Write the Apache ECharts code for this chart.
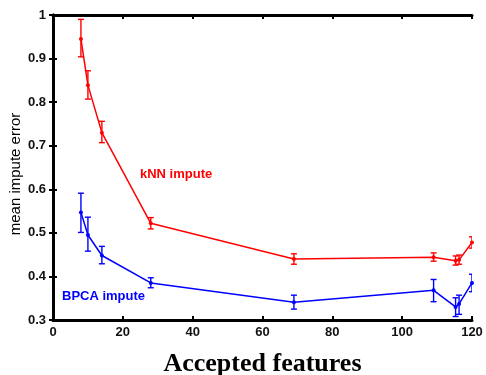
<!DOCTYPE html>
<html>
<head>
<meta charset="utf-8">
<script src="https://cdn.jsdelivr.net/npm/echarts@6/dist/echarts.min.js"></script>
<style>
  html, body { margin: 0; padding: 0; background: #fff; }
  #chart { width: 486px; height: 375px; }
</style>
</head>
<body>
<div id="chart"></div>
<script>
// accepted features (x positions)
const features = [8, 10, 14, 28, 69, 109, 115.3, 116.3, 120];

// kNN impute
const knnMean = [0.945, 0.839, 0.730, 0.522, 0.440, 0.444, 0.436, 0.438, 0.478];
const knnLow = [0.904, 0.807, 0.707, 0.509, 0.428, 0.435, 0.426, 0.428, 0.465];
const knnHigh = [0.990, 0.872, 0.756, 0.535, 0.452, 0.454, 0.447, 0.449, 0.491];

// BPCA impute
const bpcaMean = [0.547, 0.495, 0.448, 0.385, 0.341, 0.368, 0.330, 0.337, 0.385];
const bpcaLow = [0.501, 0.458, 0.429, 0.374, 0.325, 0.342, 0.308, 0.313, 0.365];
const bpcaHigh = [0.591, 0.536, 0.469, 0.397, 0.357, 0.393, 0.351, 0.357, 0.405];

const xTicks = [0, 20, 40, 60, 80, 100, 120];
const yTicks = [0.3, 0.4, 0.5, 0.6, 0.7, 0.8, 0.9, 1];

const RED = "#ff0000";
const BLUE = "#0000ff";

function pairs(xs, ys) {
  return xs.map((x, i) => [x, ys[i]]);
}

function errorBars(name, color, low, high) {
  return {
    name: name + " err",
    type: "custom",
    clip: true,
    z: 3,
    data: features.map((x, i) => [x, low[i], high[i]]),
    renderItem(params, api) {
      const lo = api.coord([api.value(0), api.value(1)]);
      const hi = api.coord([api.value(0), api.value(2)]);
      const w = 3;
      const style = { stroke: color, lineWidth: 1.4 };
      return {
        type: "group",
        children: [
          { type: "line", shape: { x1: lo[0], y1: lo[1], x2: hi[0], y2: hi[1] }, style },
          { type: "line", shape: { x1: lo[0] - w, y1: lo[1], x2: lo[0] + w, y2: lo[1] }, style },
          { type: "line", shape: { x1: hi[0] - w, y1: hi[1], x2: hi[0] + w, y2: hi[1] }, style },
        ],
      };
    },
  };
}

function meanLine(name, color, values) {
  return {
    name,
    type: "line",
    data: pairs(features, values),
    symbol: "circle",
    symbolSize: 4,
    clip: true,
    z: 4,
    lineStyle: { width: 1.5, color },
    itemStyle: { color },
  };
}

const tickLabel = {
  color: "#111",
  fontFamily: "Liberation Sans",
  fontWeight: "bold",
  fontSize: 13,
};

const frameAxis = {
  axisLine: { lineStyle: { color: "#000", width: 3 } },
  axisTick: { inside: true, length: 4, lineStyle: { color: "#000", width: 2 } },
  splitLine: { show: false },
};

const chart = echarts.init(document.getElementById("chart"));
chart.setOption({
  animation: false,
  backgroundColor: "#fff",
  grid: { left: 53, right: 14, top: 15, bottom: 55, outerBoundsMode: "none" },
  xAxis: [
    {
      type: "value",
      min: 0,
      max: 120,
      interval: 20,
      name: "Accepted features",
      nameLocation: "middle",
      nameGap: 31,
      nameTextStyle: {
        color: "#000",
        fontFamily: "Liberation Serif",
        fontWeight: "bold",
        fontSize: 26,
      },
      ...frameAxis,
      axisLabel: { ...tickLabel, margin: 6 },
    },
    {
      type: "value",
      position: "top",
      min: 0,
      max: 120,
      interval: 20,
      ...frameAxis,
      axisLabel: { show: false },
    },
  ],
  yAxis: [
    {
      type: "value",
      min: 0.3,
      max: 1,
      interval: 0.1,
      ...frameAxis,
      axisLabel: {
        ...tickLabel,
        margin: 7,
        formatter: (v) => {
          const r = Math.round(v * 10) / 10;
          return r === 1 ? "1" : r.toFixed(1);
        },
      },
    },
    {
      type: "value",
      position: "right",
      min: 0.3,
      max: 1,
      interval: 0.1,
      ...frameAxis,
      axisLabel: { show: false },
    },
  ],
  graphic: [
    {
      type: "text",
      x: 16,
      y: 174,
      rotation: Math.PI / 2,
      style: {
        text: "mean impute error",
        fill: "#000",
        font: "15px 'Liberation Sans'",
        align: "center",
        verticalAlign: "middle",
      },
    },
    {
      type: "text",
      left: 140,
      top: 168,
      style: {
        text: "kNN impute",
        fill: RED,
        font: "bold 13px 'Liberation Sans'",
      },
    },
    {
      type: "text",
      left: 62,
      top: 290,
      style: {
        text: "BPCA impute",
        fill: BLUE,
        font: "bold 13px 'Liberation Sans'",
      },
    },
  ],
  series: [
    meanLine("kNN impute", RED, knnMean),
    errorBars("kNN impute", RED, knnLow, knnHigh),
    meanLine("BPCA impute", BLUE, bpcaMean),
    errorBars("BPCA impute", BLUE, bpcaLow, bpcaHigh),
  ],
});
</script>
</body>
</html>
